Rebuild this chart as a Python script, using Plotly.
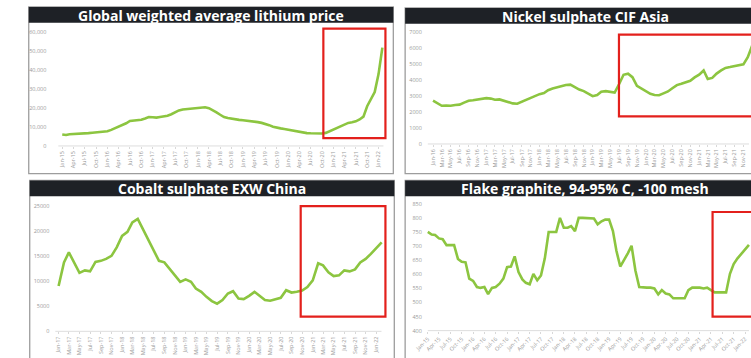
import pandas as pd
import plotly.graph_objects as go

W, H = 751, 358

# ---------------- data ----------------
lithium_start = "2015-01-01"
lithium_values = [
    6100, 5800, 6200, 6300, 6200, 6500, 6600, 6800, 7000, 7200, 7300, 7600,
    7800, 8500, 9300, 10000, 11000, 12000, 13200, 13500, 13400, 13900, 14500, 15300,
    15200, 15000, 15300, 15500, 16000, 16800, 18000, 18800, 19300, 19500, 19400, 19600,
    19900, 20300, 20500, 20000, 19000, 17800, 16500, 15300, 14800, 14400, 14000, 13800,
    13600, 13400, 13300, 13000, 12600, 12200, 11800, 11000, 10200, 9600, 9300, 9000,
    8600, 8200, 7800, 7400, 7100, 6800, 6700, 6600, 6500, 6600, 6900, 7800,
    8800, 9800, 10800, 11600, 12200, 12500, 13000, 14000, 15500, 21000, 24500, 28500,
    38000, 52000,
]

nickel_start = "2016-01-01"
nickel_values = [
    2720, 2550, 2400, 2420, 2400, 2450, 2470, 2600, 2720, 2750, 2800, 2820,
    2880, 2850, 2780, 2800, 2720, 2650, 2550, 2530, 2650, 2800, 2920, 3030,
    3130, 3200, 3380, 3480, 3560, 3630, 3700, 3730, 3550, 3420, 3320, 3180,
    3000, 3080, 3280, 3320, 3290, 3230, 3750, 4350, 4420, 4200, 3650, 3480,
    3350, 3150, 3080, 3060, 3180, 3300, 3500, 3700, 3780, 3880, 3970, 4180,
    4350, 4620, 4080, 4150, 4420, 4620, 4780, 4830, 4900, 4950, 5000, 5450,
    6200, 6600,
]

cobalt_start = "2017-01-01"
cobalt_values = [
    9080, 13800, 15800, 13800, 11700, 12200, 12000, 13900, 14100, 14500, 15100, 16800,
    19100, 19900, 21800, 22500, 20400, 18100, 16100, 14100, 13800, 12500, 11200, 9900,
    10400, 9900, 8550, 7900, 6900, 6050, 5530, 6250, 7570, 8030, 6580, 6450,
    7100, 7900, 7100, 6250, 6120, 6380, 6710, 8230, 7760, 7900, 8160, 8880,
    10200, 13600, 13200, 11800, 11050, 11200, 12200, 12000, 12400, 13800, 14500, 15500,
    16600, 17800,
]

graphite_start = "2015-01-01"
graphite_values = [
    751, 742, 740, 728, 725, 704, 704, 704, 655, 645, 643, 585,
    577, 555, 552, 555, 530, 552, 555, 567, 585, 626, 628, 664,
    608, 582, 570, 565, 602, 579, 596, 657, 751, 751, 751, 801,
    766, 766, 772, 754, 801, 801, 801, 801, 799, 778, 789, 795,
    795, 754, 684, 628, 649, 675, 702, 614, 555, 553, 553, 553,
    550, 529, 544, 532, 529, 515, 515, 515, 515, 544, 553, 553,
    553, 550, 553, 544, 536, 536, 536, 536, 602, 637, 657, 672,
    690, 705,
]

titles = [
    "Global weighted average lithium price",
    "Nickel sulphate CIF Asia",
    "Cobalt sulphate EXW China",
    "Flake graphite, 94-95% C, -100 mesh",
]

# ---------------- helpers ----------------
def months(start, n):
    return pd.date_range(start, periods=n, freq="MS")

def px_x(p):
    return p / W

def px_y(p):
    return 1 - p / H

def lin(p, va, pa, vb, pb):
    return va + (p - pa) * (vb - va) / (pb - pa)

def date_range_px(p0, p1, da, pa, db, pb):
    ta = pd.Timestamp(da).value / 1e6
    tb = pd.Timestamp(db).value / 1e6
    r0 = pd.Timestamp(lin(p0, ta, pa, tb, pb), unit="ms")
    r1 = pd.Timestamp(lin(p1, ta, pa, tb, pb), unit="ms")
    return [r0.strftime("%Y-%m-%d %H:%M"), r1.strftime("%Y-%m-%d %H:%M")]

GREEN = "#8cc540"
RED = "#e3201c"
DARK = "#1e2126"
TICKC = "#9a9a9a"

fig = go.Figure()

panels = [
    dict(vals=lithium_values, start=lithium_start,
         xd=(45, 380), yd=(26, 147),
         xa=("2015-01-01", 52, "2022-01-01", 373),
         ya=(0, 147, 60000, 32), dtick=10000, fmt=",", standoff=8,
         xtick=dict(dtick="M3", tick0="2015-01-01", tickangle=-90)),
    dict(vals=nickel_values, start=nickel_start,
         xd=(420, 751), yd=(28, 145),
         xa=("2016-01-01", 428.3, "2021-11-01", 743.3),
         ya=(0, 145, 7000, 32), dtick=1000, fmt="d", standoff=2,
         xtick=dict(dtick="M2", tick0="2016-01-01", tickangle=-90)),
    dict(vals=cobalt_values, start=cobalt_start,
         xd=(42, 378), yd=(204, 335),
         xa=("2017-01-01", 48.3, "2022-01-01", 370.7),
         ya=(0, 335, 25000, 208.3), dtick=5000, fmt="d", standoff=2,
         xtick=dict(dtick="M2", tick0="2017-01-01", tickangle=-90)),
    dict(vals=graphite_values, start=graphite_start,
         xd=(420, 751), yd=(203, 334.3),
         xa=("2015-01-01", 423, "2022-01-01", 745),
         ya=(400, 334.3, 850, 206), dtick=50, fmt="d", standoff=2,
         xtick=dict(dtick="M3", tick0="2015-01-01", tickangle=-45)),
]

layout = {}
for i, p in enumerate(panels):
    n = "" if i == 0 else str(i + 1)
    xs = months(p["start"], len(p["vals"]))
    fig.add_trace(go.Scatter(
        x=xs, y=p["vals"], mode="lines",
        line=dict(color=GREEN, width=2.6, shape="linear"),
        xaxis="x" + n, yaxis="y" + n, showlegend=False, hoverinfo="skip"))
    x0, x1 = p["xd"]
    yt, yb = p["yd"]
    va, pa, vb, pb = p["ya"]
    layout["xaxis" + n] = dict(
        domain=[px_x(x0), px_x(x1)], anchor="y" + n, type="date",
        range=date_range_px(x0, x1, *p["xa"]),
        tickformat="%b-%y", showgrid=False, zeroline=False,
        showline=False, ticks="outside", ticklen=2, tickcolor="#d8d8d8",
        tickfont=dict(size=5.5, color=TICKC, family="Open Sans"),
        **p["xtick"])
    layout["yaxis" + n] = dict(
        domain=[px_y(yb), px_y(yt)], anchor="x" + n,
        range=[lin(yb, va, pa, vb, pb), lin(yt, va, pa, vb, pb)],
        dtick=p["dtick"], tickformat=p["fmt"], showgrid=False,
        zeroline=False, showline=False, ticks="",
        ticklabelstandoff=p["standoff"],
        tickfont=dict(size=5.5, color=TICKC, family="Open Sans"))

shapes = []
annotations = []

# panel frames and title bars (pixel geometry)
frames = [
    (18, 388, 6, 175),
    (400, 766, 7, 175),
    (19, 389, 182, 380),
    (400, 766, 182, 380),
]
for (fx0, fx1, fy0, fy1), title in zip(frames, titles):
    shapes.append(dict(type="rect", xref="paper", yref="paper",
                       x0=px_x(fx0), x1=px_x(fx1), y0=px_y(fy1), y1=px_y(fy0),
                       line=dict(color="#9d9d9d", width=1.3), fillcolor="rgba(0,0,0,0)"))
    shapes.append(dict(type="rect", xref="paper", yref="paper",
                       x0=px_x(fx0), x1=px_x(fx1), y0=px_y(fy0 + 16), y1=px_y(fy0),
                       line=dict(width=0), fillcolor=DARK))
    annotations.append(dict(text="<b>" + title + "</b>", xref="paper", yref="paper",
                            x=px_x((fx0 + fx1) / 2), y=px_y(fy0 + 8.5),
                            xanchor="center", yanchor="middle", showarrow=False,
                            font=dict(size=14, color="white", family="Open Sans")))

# baselines (x-axis lines) for each plot
for i, p in enumerate(panels):
    x0, x1 = p["xd"]
    yb = p["yd"][1]
    shapes.append(dict(type="line", xref="paper", yref="paper",
                       x0=px_x(x0 + 3), x1=px_x(x1 - 2), y0=px_y(yb), y1=px_y(yb),
                       line=dict(color="#dddddd", width=1)))

# red highlight boxes
red_boxes = [
    (317, 380, 28, 139),
    (617, 770, 34, 117),
    (294, 380, 208, 320),
    (712, 770, 214, 320),
]
for bx0, bx1, by0, by1 in red_boxes:
    shapes.append(dict(type="rect", xref="paper", yref="paper",
                       x0=px_x(bx0), x1=px_x(bx1), y0=px_y(by1), y1=px_y(by0),
                       line=dict(color=RED, width=2.2), fillcolor="rgba(0,0,0,0)"))

fig.update_layout(
    width=W, height=H, margin=dict(l=0, r=0, t=0, b=0),
    paper_bgcolor="white", plot_bgcolor="white",
    shapes=shapes, annotations=annotations, **layout)

fig.write_html("out.html",
               config={"displayModeBar": False},
               post_script="document.body.style.margin='0px';document.body.style.overflow='hidden';")
